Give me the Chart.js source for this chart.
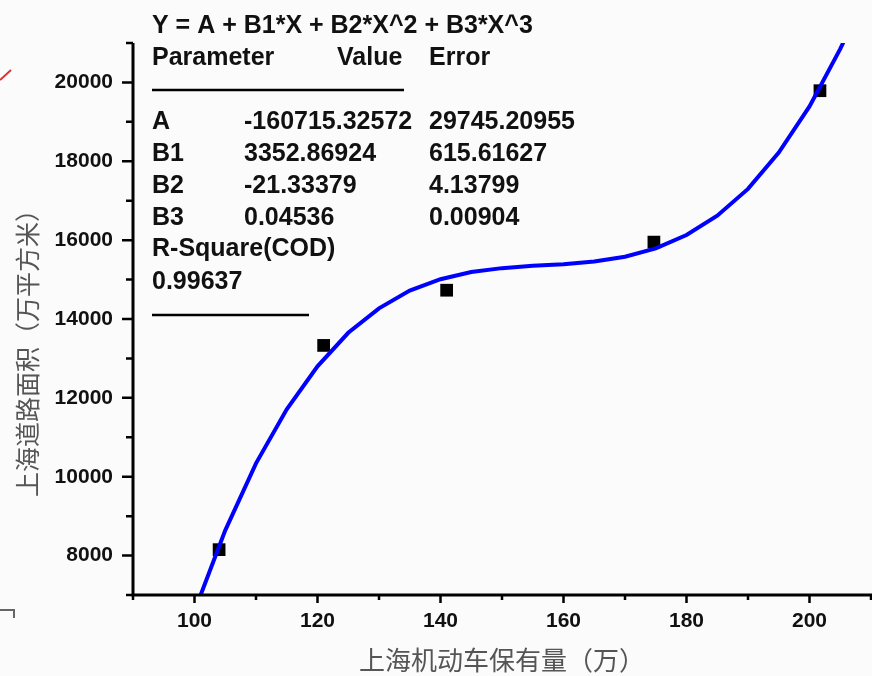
<!DOCTYPE html>
<html>
<head>
<meta charset="utf-8">
<script src="https://cdn.jsdelivr.net/npm/chart.js@4/dist/chart.umd.min.js"></script>
<style>
  body { margin: 0; background: #fbfbfb; }
  canvas { display: block; }
</style>
</head>
<body>
<canvas id="fitChart" width="872" height="676"></canvas>
<script>
// observed points (vehicles in 10k, road area in 10k m2)
const observedX = [104, 121, 141, 174.7, 201.7];
const observedY = [8150, 13330, 14730, 15950, 19790];

// fitted cubic as drawn in the figure, read every 5 units
const curveX = [100, 105, 110, 115, 120, 125, 130, 135, 140, 145, 150, 155,
                160, 165, 170, 175, 180, 185, 190, 195, 200, 205, 206];
const curveY = [6590, 8640, 10340, 11710, 12800, 13650, 14270, 14720, 15010, 15190, 15290, 15350,
                15390, 15460, 15580, 15790, 16130, 16620, 17300, 18220, 19390, 20850, 21180];

// fit report text
const fitEquation = 'Y = A + B1*X + B2*X^2 + B3*X^3';
const paramNames = ['A', 'B1', 'B2', 'B3'];
const paramValues = ['-160715.32572', '3352.86924', '-21.33379', '0.04536'];
const paramErrors = ['29745.20955', '615.61627', '4.13799', '0.00904'];
const rSquareLabel = 'R-Square(COD)';
const rSquare = '0.99637';

const xTitle = '上海机动车保有量（万）';
const yTitle = '上海道路面积（万平方米）';

const tickFont = { family: '"Liberation Sans", Arial, sans-serif', size: 21, weight: 'bold' };

// axes, ticks, fit table and y title
const decorations = {
  id: 'decorations',
  afterDraw(chart) {
    const { ctx, chartArea: a } = chart;
    const xs = chart.scales.x, ys = chart.scales.y;
    ctx.save();
    ctx.strokeStyle = '#000';
    ctx.lineWidth = 3;
    ctx.beginPath();
    ctx.moveTo(a.left, a.top); ctx.lineTo(a.left, a.bottom + 1.5);
    ctx.moveTo(a.left - 1.5, a.bottom); ctx.lineTo(a.right + 2, a.bottom);
    ctx.stroke();

    ctx.lineWidth = 2.5;
    ctx.beginPath();
    for (let v = 90; v <= 210; v += 10) {
      const px = xs.getPixelForValue(v);
      const len = v % 20 === 0 ? 8 : 5;
      ctx.moveTo(px, a.bottom); ctx.lineTo(px, a.bottom + len);
    }
    for (let v = 7000; v <= 21000; v += 1000) {
      const py = ys.getPixelForValue(v);
      const len = v % 2000 === 0 ? 11 : 7;
      ctx.moveTo(a.left, py); ctx.lineTo(a.left - len, py);
    }
    ctx.stroke();

    // fit report
    ctx.fillStyle = '#111';
    ctx.font = 'bold 25px "Liberation Sans", Arial, sans-serif';
    ctx.textBaseline = 'alphabetic';
    ctx.textAlign = 'left';
    ctx.fillText(fitEquation, 152, 33);
    ctx.fillText('Parameter', 152, 65);
    ctx.fillText('Value', 337, 65);
    ctx.fillText('Error', 429, 65);
    const rows = [129, 161, 193, 225];
    paramNames.forEach((n, i) => {
      ctx.fillText(n, 152, rows[i]);
      ctx.fillText(paramValues[i], 244, rows[i]);
      ctx.fillText(paramErrors[i], 429, rows[i]);
    });
    ctx.fillText(rSquareLabel, 152, 256);
    ctx.fillText(rSquare, 152, 289);
    ctx.lineWidth = 2.5;
    ctx.beginPath();
    ctx.moveTo(152, 90); ctx.lineTo(404, 90);
    ctx.moveTo(152, 315); ctx.lineTo(309, 315);
    ctx.stroke();

    // y axis title
    ctx.save();
    ctx.translate(27, 347);
    ctx.rotate(-Math.PI / 2);
    ctx.textAlign = 'center';
    ctx.textBaseline = 'middle';
    ctx.fillStyle = '#555';
    ctx.font = '25px "Noto Sans CJK SC", sans-serif';
    ctx.fillText(yTitle, 0, 0);
    ctx.restore();

    // stray marks at the slide edge
    ctx.strokeStyle = '#e03030';
    ctx.lineWidth = 2;
    ctx.beginPath(); ctx.moveTo(0, 80); ctx.lineTo(11, 70); ctx.stroke();
    ctx.strokeStyle = '#666';
    ctx.beginPath(); ctx.moveTo(0, 610); ctx.lineTo(14, 610); ctx.lineTo(14, 618); ctx.stroke();
    ctx.restore();
  }
};

const ctx = document.getElementById('fitChart').getContext('2d');
new Chart(ctx, {
  type: 'scatter',
  data: {
    datasets: [
      {
        label: 'fit',
        data: curveX.map((x, i) => ({ x: x, y: curveY[i] })),
        showLine: true,
        borderColor: '#0000ff',
        borderWidth: 4,
        pointRadius: 0,
        tension: 0,
        order: 0
      },
      {
        label: 'data',
        data: observedX.map((x, i) => ({ x: x, y: observedY[i] })),
        pointStyle: 'rect',
        pointRadius: 9,
        backgroundColor: '#000',
        borderWidth: 0,
        order: 1
      }
    ]
  },
  options: {
    responsive: false,
    animation: false,
    layout: { autoPadding: false, padding: { top: 43, right: 1, left: 0, bottom: 0 } },
    plugins: { legend: { display: false }, tooltip: { enabled: false } },
    scales: {
      x: {
        min: 90, max: 210,
        grid: { display: false, drawTicks: false },
        border: { display: false },
        ticks: {
          stepSize: 10, autoSkip: false, maxRotation: 0, padding: 14,
          color: '#111', font: tickFont,
          callback: v => (v % 20 === 0 ? String(v) : '')
        },
        title: {
          display: true, text: xTitle, color: '#555',
          font: { family: '"Noto Sans CJK SC", sans-serif', size: 26 },
          padding: { top: 0, bottom: 0 }
        },
        afterFit: s => { s.height = 81; s.paddingLeft = 0; s.paddingRight = 0; }
      },
      y: {
        min: 7000, max: 21000,
        grid: { display: false, drawTicks: false },
        border: { display: false },
        ticks: {
          stepSize: 1000, autoSkip: false, padding: 20,
          color: '#111', font: tickFont,
          callback: v => (v % 2000 === 0 ? String(v) : '')
        },
        afterFit: s => { s.width = 133; s.paddingTop = 0; s.paddingBottom = 0; }
      }
    }
  },
  plugins: [decorations]
});
</script>
</body>
</html>
